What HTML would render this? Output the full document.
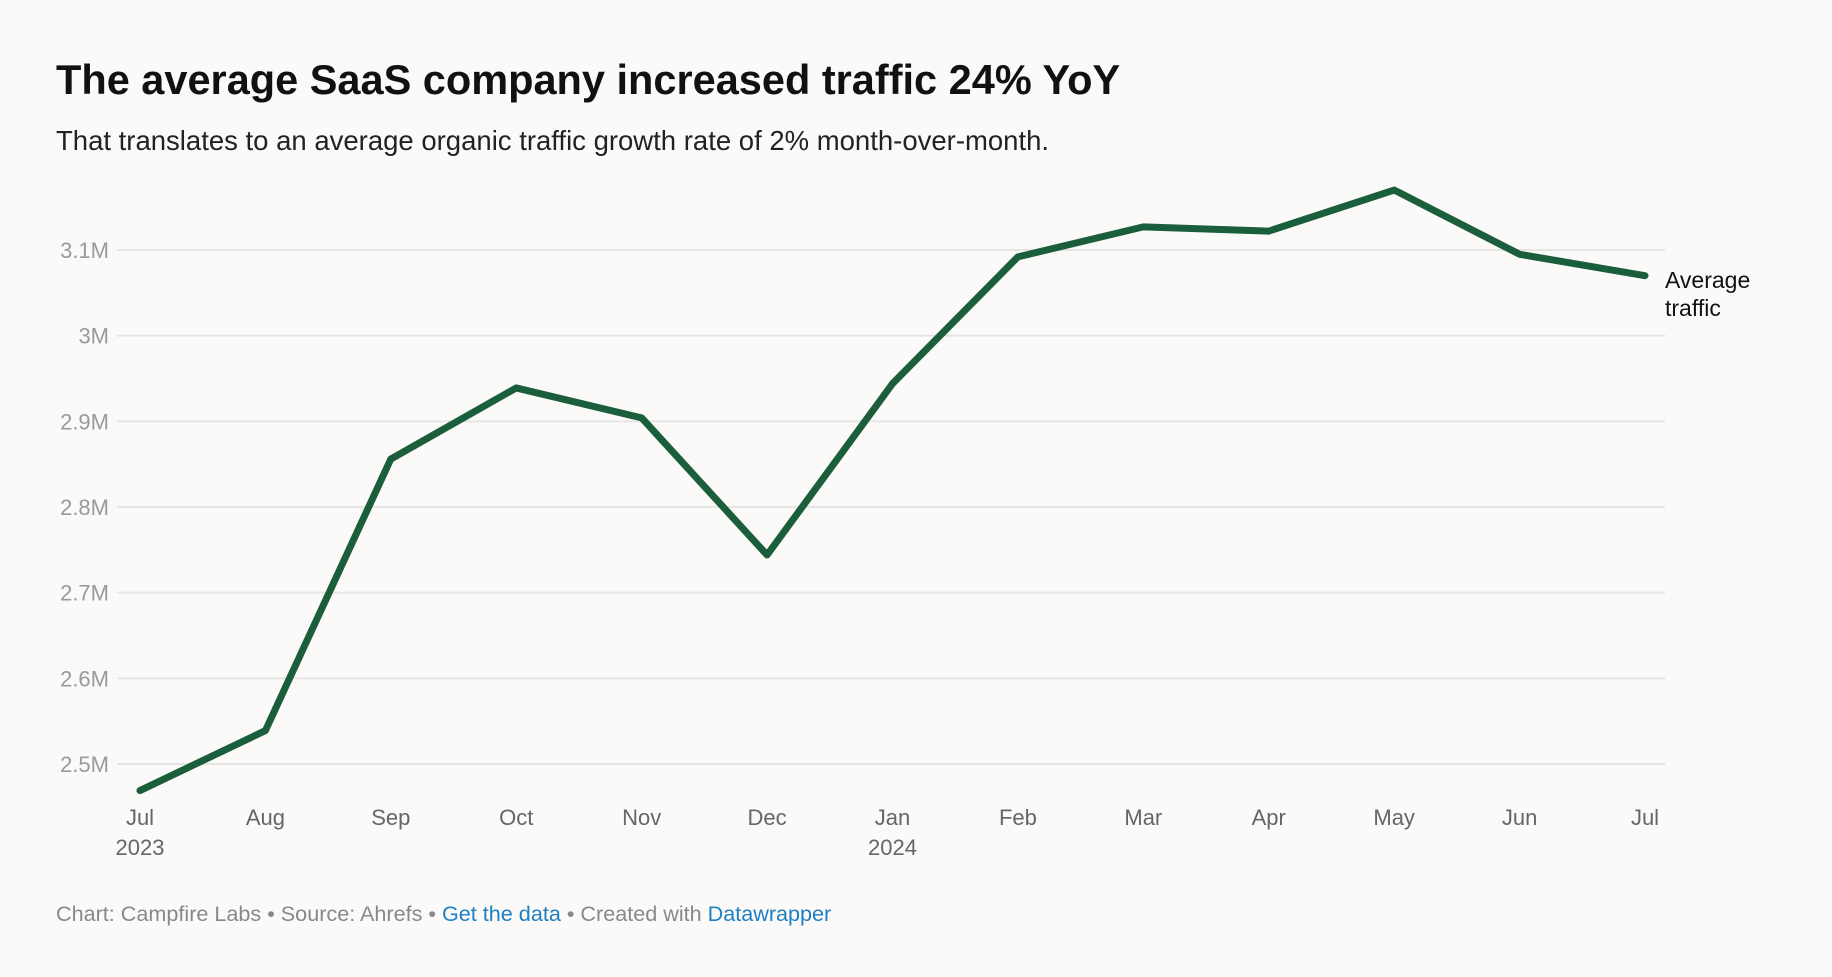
<!DOCTYPE html>
<html><head><meta charset="utf-8"><style>
html,body{margin:0;padding:0;background:#fbfaf8;}
body{width:1832px;height:972px;overflow:hidden;font-family:"Liberation Sans",sans-serif;}
</style></head><body>
<svg width="1832" height="972" xmlns="http://www.w3.org/2000/svg">
<rect width="1832" height="972" fill="#fbfaf8"/>
<text x="56" y="94" font-size="41.5" font-weight="bold" fill="#111">The average SaaS company increased traffic 24% YoY</text>
<text x="56" y="150" font-size="27.5" fill="#222">That translates to an average organic traffic growth rate of 2% month-over-month.</text>
<g id="grid"></g>
<g id="xaxis"></g>
<path id="line" fill="none" stroke="#1b5e3c" stroke-width="7" stroke-linejoin="round" stroke-linecap="round"/>
<text x="1665" y="288" font-size="23" fill="#111"><tspan x="1665">Average</tspan><tspan x="1665" dy="28">traffic</tspan></text>
<text x="56" y="921" font-size="21.6" fill="#888">Chart: Campfire Labs • Source: Ahrefs • <tspan fill="#1f7fc4">Get the data</tspan> • Created with <tspan fill="#1f7fc4">Datawrapper</tspan></text>
</svg>
<script>
const months = ["Jul","Aug","Sep","Oct","Nov","Dec","Jan","Feb","Mar","Apr","May","Jun","Jul"];
const years = ["2023","","","","","","2024","","","","","",""];
const values = [2.469,2.539,2.856,2.939,2.904,2.744,2.944,3.092,3.127,3.122,3.170,3.095,3.070];
const yTicks = [2.5,2.6,2.7,2.8,2.9,3.0,3.1];
const yTickLabels = ["2.5M","2.6M","2.7M","2.8M","2.9M","3M","3.1M"];
const NS="http://www.w3.org/2000/svg";
const x0=140,x1=1645;
function xs(i){return x0+(x1-x0)*i/(months.length-1);}
function ys(v){return 764-(v-2.5)/0.6*(764-250);}
const grid=document.getElementById('grid');
yTicks.forEach((t,i)=>{
  const l=document.createElementNS(NS,'line');
  l.setAttribute('x1',117);l.setAttribute('x2',1665);
  l.setAttribute('y1',ys(t));l.setAttribute('y2',ys(t));
  l.setAttribute('stroke','#e6e5e3');l.setAttribute('stroke-width','2');
  
  
  grid.appendChild(l);
  const tx=document.createElementNS(NS,'text');
  tx.setAttribute('x',109);tx.setAttribute('y',ys(t)+8);
  tx.setAttribute('text-anchor','end');tx.setAttribute('font-size','22');tx.setAttribute('fill','#9a9a9a');
  tx.textContent=yTickLabels[i];
  
  
  grid.appendChild(tx);
});
const xa=document.getElementById('xaxis');
months.forEach((m,i)=>{
  const tx=document.createElementNS(NS,'text');
  tx.setAttribute('x',xs(i));tx.setAttribute('y',825);
  tx.setAttribute('text-anchor','middle');tx.setAttribute('font-size','22');tx.setAttribute('fill','#666');
  tx.textContent=m;
  
  
  xa.appendChild(tx);
  if(years[i]){
    const ty=document.createElementNS(NS,'text');
    ty.setAttribute('x',xs(i));ty.setAttribute('y',855);
    ty.setAttribute('text-anchor','middle');ty.setAttribute('font-size','22');ty.setAttribute('fill','#666');
    ty.textContent=years[i];
    
    
    xa.appendChild(ty);
  }
});
document.getElementById('line').setAttribute('d',values.map((v,i)=>(i?'L':'M')+xs(i)+','+ys(v)).join(' '));
</script>
</body></html>
